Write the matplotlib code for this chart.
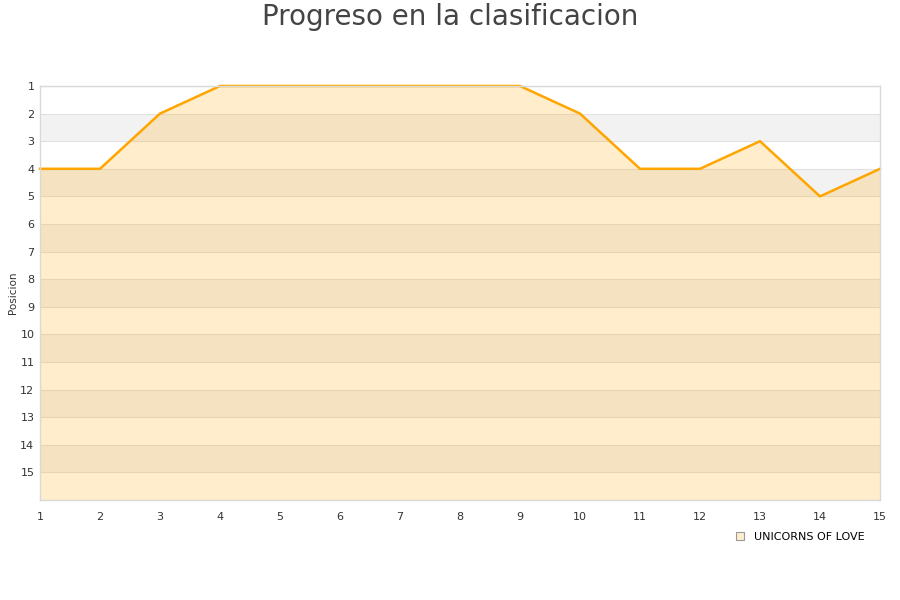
import matplotlib
matplotlib.use("Agg")
import matplotlib.pyplot as plt
from matplotlib.lines import Line2D

# jornadas y posicion del equipo
jornadas = list(range(1, 16))
posicion = [4, 4, 2, 1, 1, 1, 1, 1, 1, 2, 4, 4, 3, 5, 4]
equipo = "UNICORNS OF LOVE"
y_ticks = list(range(1, 16))

fig = plt.figure(figsize=(9, 6), dpi=100)
ax = fig.add_axes([40 / 900, 1 - 500 / 600, 840 / 900, 414 / 600])

# bandas alternas de fondo
for y0 in range(2, 16, 2):
    ax.axhspan(y0, y0 + 1, color="#f2f2f2", zorder=0, lw=0)
for y in y_ticks:
    ax.axhline(y, color="#e0e0e0", lw=0.8, zorder=0.5)

ax.fill_between(jornadas, posicion, 16, color="#ffa500", alpha=0.2, lw=0, zorder=1)
ax.plot(jornadas, posicion, color="#ffa500", lw=1.8, zorder=2, clip_on=False)

ax.set_xlim(1, 15)
ax.set_ylim(16, 1)
ax.set_xticks(jornadas)
ax.set_yticks(y_ticks)
ax.tick_params(axis="y", length=0, labelsize=8, colors="#333333", pad=4)
ax.tick_params(axis="x", length=0, labelsize=8, colors="#333333", pad=9)
for s in ax.spines.values():
    s.set_color("#d9d9d9")
    s.set_linewidth(1)

ax.set_ylabel("Posicion", fontsize=7.5, color="#333333", labelpad=2)
fig.text(0.5, 0.995, "Progreso en la clasificacion", ha="center", va="top",
         fontsize=20, color="#444444")

handle = Line2D([], [], marker="s", linestyle="none", markersize=6,
                markerfacecolor="#ffeecc", markeredgecolor="#999999", markeredgewidth=0.8)
fig.legend([handle], [equipo], loc="center", bbox_to_anchor=(0.885, 0.105),
           frameon=False, fontsize=8, handletextpad=0.3)

fig.savefig("out.png", dpi=100)
